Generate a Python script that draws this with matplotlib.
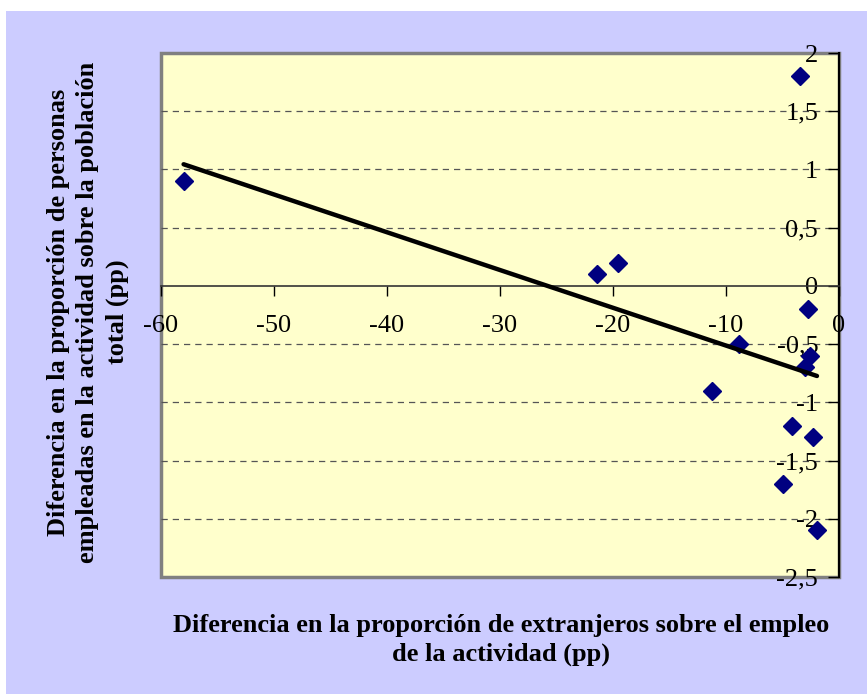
import numpy as np
import matplotlib
matplotlib.use("Agg")
import matplotlib.pyplot as plt
from matplotlib.patches import Rectangle

plt.rcParams['font.family'] = ['Liberation Serif', 'DejaVu Serif']
plt.rcParams['axes.unicode_minus'] = False

# Differences in foreign share of employment (x) vs employed share of population (y)
x_extranjeros = [-58.0, -21.4, -19.6, -3.45, -2.7, -8.85, -2.6, -3.0, -11.2, -4.2, -2.3, -5.0, -1.95]
y_empleados = [0.9, 0.1, 0.2, 1.8, -0.2, -0.5, -0.6, -0.7, -0.9, -1.2, -1.3, -1.7, -2.1]

x_ticks = [-60, -50, -40, -30, -20, -10, 0]
y_ticks = [-2.5, -2, -1.5, -1, -0.5, 0, 0.5, 1, 1.5, 2]
y_tick_labels = ["-2,5", "-2", "-1,5", "-1", "-0,5", "0", "0,5", "1", "1,5", "2"]

xlabel = "Diferencia en la proporción de extranjeros sobre el empleo\nde la actividad (pp)"
ylabel = "Diferencia en la proporción de personas\nempleadas en la actividad sobre la población\ntotal (pp)"

fig = plt.figure(figsize=(8.67, 6.94), dpi=100, facecolor="white")
# lavender chart area
fig.patches.append(Rectangle((6 / 867, 0), 1, (694 - 11) / 694, transform=fig.transFigure,
                             facecolor="#CCCCFF", edgecolor="none", zorder=-10))

ax = fig.add_axes([161 / 867, 117 / 694, 678 / 867, 524 / 694])
ax.set_facecolor("#FFFFCC")
ax.patch.set_edgecolor("#808080")
ax.patch.set_linewidth(2.5)

ax.set_xlim(-60, 0)
ax.set_ylim(-2.5, 2)

# gridlines (dashed) except at 0 and top
for yv in y_ticks:
    if yv not in (0, 2, -2.5):
        ax.axhline(yv, color="#555555", lw=0.9, ls=(0, (5, 4)), zorder=1)

# axes crossing at origin
ax.spines['left'].set_position(('data', 0))
ax.spines['bottom'].set_position(('data', 0))
ax.spines['right'].set_visible(False)
ax.spines['top'].set_visible(False)
ax.spines['left'].set_color("black")
ax.spines['left'].set_linewidth(1.5)
ax.spines['bottom'].set_color("#333333")
ax.spines['bottom'].set_linewidth(1.2)
ax.spines['left'].set_zorder(2)
ax.spines['bottom'].set_zorder(2)

ax.set_xticks(x_ticks)
ax.set_xticklabels([str(v) for v in x_ticks])
ax.set_yticks(y_ticks)
ax.set_yticklabels(y_tick_labels)
ax.tick_params(axis='x', direction='out', length=7, width=1, pad=14, labelsize=19)
ax.tick_params(axis='y', direction='out', length=8, width=1, pad=7, labelsize=19)
for lbl in ax.get_xticklabels() + ax.get_yticklabels():
    lbl.set_zorder(3)

# points
ax.plot(x_extranjeros, y_empleados, ls="none", marker="D", markersize=9.5,
        color="#000080", zorder=4)

# linear trend
coef = np.polyfit(x_extranjeros, y_empleados, 1)
xs = np.array([min(x_extranjeros), max(x_extranjeros)])
ax.plot(xs, np.polyval(coef, xs), color="black", lw=3.2, zorder=5, solid_capstyle="round")

fig.text(501 / 867, 1 - 640 / 694, xlabel, ha="center", va="center", fontsize=19,
         fontweight="bold", linespacing=1.3)
fig.text(88 / 867, 1 - 312 / 694, ylabel, ha="center", va="center", fontsize=19,
         fontweight="bold", rotation=90, linespacing=1.35, multialignment="center")

fig.savefig("out.png", dpi=100, facecolor=fig.get_facecolor())
